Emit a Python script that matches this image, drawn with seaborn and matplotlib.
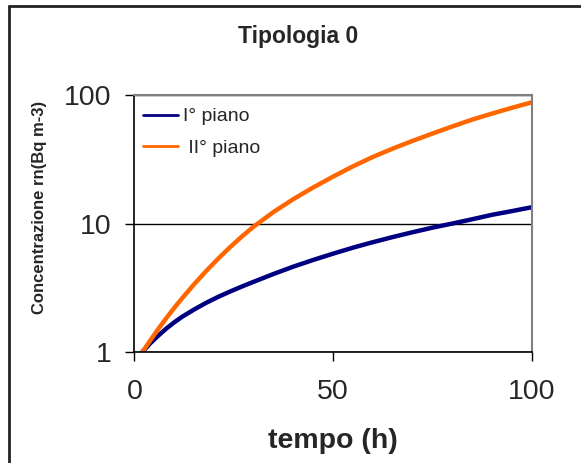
import pandas as pd
import matplotlib
matplotlib.use("Agg")
import matplotlib.pyplot as plt
import seaborn as sns
from matplotlib.lines import Line2D
from matplotlib.ticker import NullLocator

# dati (tempo in ore, concentrazione in Bq m-3)
tempo = [2, 4, 6, 8, 10, 12, 15, 18, 21, 24, 27, 30, 35, 40, 45, 50,
         55, 60, 65, 70, 75, 80, 85, 90, 95, 100]
piano_1 = [1.0, 1.17, 1.34, 1.52, 1.70, 1.88, 2.14, 2.41, 2.68, 2.95, 3.23, 3.52, 4.05, 4.62, 5.21, 5.83,
           6.49, 7.16, 7.85, 8.56, 9.29, 10.0, 10.8, 11.7, 12.5, 13.4]
piano_2 = [1.0, 1.23, 1.51, 1.83, 2.20, 2.62, 3.36, 4.25, 5.30, 6.52, 7.91, 9.46, 12.3, 15.5, 19.1, 23.2,
           27.9, 33.0, 38.3, 44.0, 50.2, 57.0, 64.4, 71.8, 79.6, 87.8]
serie = ["I° piano", " II° piano"]
colori = ["#000080", "#FF6600"]

df = pd.concat([
    pd.DataFrame({"tempo": tempo, "conc": piano_1, "piano": serie[0]}),
    pd.DataFrame({"tempo": tempo, "conc": piano_2, "piano": serie[1]}),
])

sns.set_style("white")
plt.rcParams['font.family'] = ['Liberation Sans', 'DejaVu Sans']

fig = plt.figure(figsize=(5.81, 4.63), dpi=100)
ax = fig.add_axes([0.2313, 0.2397, 0.6844, 0.5551])

sns.lineplot(data=df, x="tempo", y="conc", hue="piano", palette=colori,
             linewidth=3.2, ax=ax, sort=False)

ax.set_yscale("log")
ax.set_xlim(0, 100)
ax.set_ylim(1, 100)
ax.set_xticks([0, 50, 100])
ax.set_yticks([1, 10, 100])
ax.set_yticklabels(["1", "10", "100"])
ax.yaxis.set_minor_locator(NullLocator())
ax.set_xlabel("")
ax.set_ylabel("")

ax.yaxis.grid(True, color="black", linewidth=1)
ax.xaxis.grid(False)

for s in ["left", "bottom"]:
    ax.spines[s].set_color("black")
    ax.spines[s].set_linewidth(1.2)
for s in ["top", "right"]:
    ax.spines[s].set_color("#808080")
    ax.spines[s].set_linewidth(1.5)

ax.tick_params(axis="both", direction="out", length=6.5, width=1, color="black",
               labelsize=20.5, bottom=True, left=True)
ax.tick_params(axis="y", pad=10)
ax.tick_params(axis="x", pad=13)

leg = ax.legend(loc="upper left", bbox_to_anchor=(0.0216, 0.95), frameon=False,
                fontsize=14, borderpad=0, borderaxespad=0, handlelength=1.8,
                handletextpad=0.26, labelspacing=0.7)
for h in leg.get_lines():
    h.set_linewidth(2)

fig.text(298 / 581, 1 - 36 / 463, "Tipologia 0", ha="center", va="center",
         fontsize=16.5, fontweight="bold")
fig.text(40 / 581, 1 - 207 / 463, "Concentrazione rn(Bq m-3)", rotation=90,
         ha="center", va="center", fontsize=12, fontweight="bold")
fig.text(333 / 581, 1 - 441 / 463, "tempo (h)", ha="center", va="center",
         fontsize=20.5, fontweight="bold")

# cornice del grafico (solo lato sinistro e superiore visibili)
fig.add_artist(Line2D([8.5 / 581, 8.5 / 581], [0, 1 - 5.5 / 463],
                      transform=fig.transFigure, color="#222222", linewidth=2))
fig.add_artist(Line2D([8.5 / 581, 1], [1 - 5.5 / 463, 1 - 5.5 / 463],
                      transform=fig.transFigure, color="#222222", linewidth=2))

fig.savefig("out.png", dpi=100)
